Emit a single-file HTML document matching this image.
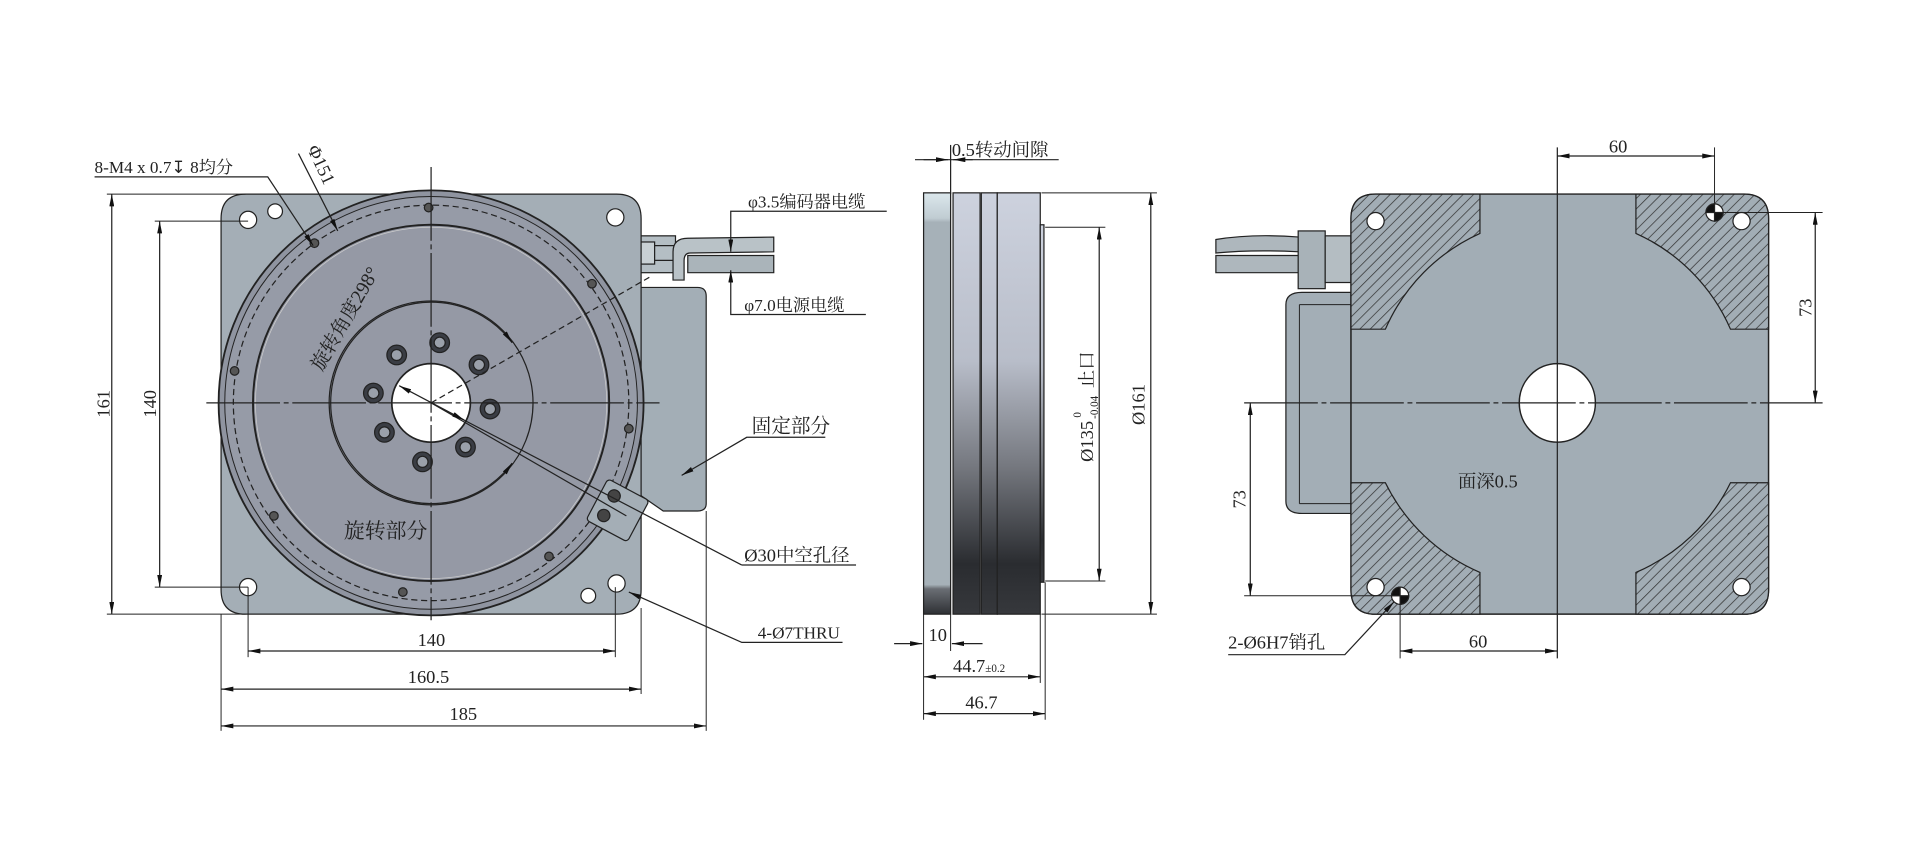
<!DOCTYPE html>
<html><head><meta charset="utf-8"><style>
html,body{margin:0;padding:0;background:#fff;width:1927px;height:850px;overflow:hidden}
svg{display:block}
text{font-family:"Liberation Serif","Noto Serif CJK SC",serif;fill:#222}
</style></head><body>
<svg width="1927" height="850" viewBox="0 0 1569 692" preserveAspectRatio="none" xmlns="http://www.w3.org/2000/svg">
<defs>
<pattern id="h" width="6" height="6" patternUnits="userSpaceOnUse" patternTransform="rotate(45)">
<rect width="6" height="6" fill="#a2adb5"/><line x1="0" y1="0" x2="0" y2="6" stroke="#333" stroke-width="1.2"/></pattern>
<linearGradient id="cyl" x1="0" y1="0" x2="0" y2="1">
<stop offset="0" stop-color="#cdd2de"/><stop offset="0.4" stop-color="#b8bdc9"/><stop offset="0.65" stop-color="#75787f"/><stop offset="0.88" stop-color="#2a2c30"/><stop offset="1" stop-color="#36383c"/></linearGradient>
<linearGradient id="lp" x1="0" y1="0" x2="0" y2="1">
<stop offset="0" stop-color="#dbe7ec"/><stop offset="0.06" stop-color="#c0ccd2"/><stop offset="0.07" stop-color="#a6b1b8"/><stop offset="0.93" stop-color="#a6b1b8"/><stop offset="0.94" stop-color="#6a6e74"/><stop offset="1" stop-color="#2e3034"/></linearGradient>
<marker id="a" viewBox="0 0 10 4" refX="10" refY="2" markerWidth="10" markerHeight="4" orient="auto-start-reverse" markerUnits="userSpaceOnUse"><path d="M0,0 L10,2 L0,4z" fill="#111"/></marker>
</defs>
<g stroke="#222" stroke-width="1">
<!-- LEFT VIEW -->
<path d="M514,234 L568,234 Q575,234 575,241 L575,410 Q575,416 568,416 L540,416 L514,398z" fill="#a3aeb6"/>
<rect x="469" y="189" width="27" height="42" rx="3" fill="#a3aeb6"/>
<rect x="496" y="192" width="54" height="30" fill="#b4bec4"/>
<line x1="500" y1="200" x2="550" y2="200"/><line x1="500" y1="212" x2="550" y2="212"/>
<rect x="519" y="197" width="14" height="18" fill="#c8d0d4"/>
<path d="M548,228 L548,205 Q548,194 560,194 L630,193 L630,205 L562,206 Q557,206 557,212 L557,228z" fill="#b9c2c7"/>
<path d="M560,208 L630,208 L630,222 L560,222z" fill="#aab4ba"/>
<path d="M200,158 L502,158 Q522,158 522,178 L522,480 Q522,500 502,500 L200,500 Q180,500 180,480 L180,178 Q180,158 200,158z" fill="#a4aeb6"/>
<circle cx="351" cy="328" r="173" fill="#8f94a0" stroke-width="1.5"/>
<circle cx="351" cy="328" r="168" fill="#969ba7" stroke-width="0.8"/>
<circle cx="351" cy="328" r="161" fill="none" stroke-dasharray="5,3"/>
<circle cx="351" cy="328" r="145" fill="#9599a5" stroke-width="1.6"/>
<circle cx="351" cy="328" r="143" fill="none" stroke="#ccc" stroke-width="0.6"/>
<circle cx="351" cy="328" r="83" fill="none" stroke-width="1"/>
<g fill="#fff"><circle cx="202" cy="179" r="7"/><circle cx="224" cy="172" r="6"/><circle cx="501" cy="177" r="7"/><circle cx="202" cy="478" r="7"/><circle cx="479" cy="485" r="6"/><circle cx="502" cy="475" r="7"/></g>
<g fill="#555"><circle cx="349" cy="169" r="3.5"/><circle cx="482" cy="231" r="3.5"/><circle cx="512" cy="349" r="3.5"/><circle cx="447" cy="453" r="3.5"/><circle cx="328" cy="482" r="3.5"/><circle cx="223" cy="420" r="3.5"/><circle cx="191" cy="302" r="3.5"/><circle cx="256" cy="198" r="3.5"/></g>
<g fill="#3a3d44"><circle cx="358" cy="279" r="8"/><circle cx="390" cy="297" r="8"/><circle cx="399" cy="333" r="8"/><circle cx="379" cy="364" r="8"/><circle cx="344" cy="376" r="8"/><circle cx="313" cy="352" r="8"/><circle cx="304" cy="320" r="8"/><circle cx="323" cy="289" r="8"/></g>
<g fill="#9aa0aa"><circle cx="358" cy="279" r="4.5"/><circle cx="390" cy="297" r="4.5"/><circle cx="399" cy="333" r="4.5"/><circle cx="379" cy="364" r="4.5"/><circle cx="344" cy="376" r="4.5"/><circle cx="313" cy="352" r="4.5"/><circle cx="304" cy="320" r="4.5"/><circle cx="323" cy="289" r="4.5"/></g>
<circle cx="351" cy="328" r="32" fill="#fff" stroke-width="1.4"/>
<g transform="rotate(28 502 415)"><rect x="484" y="396" width="38" height="38" rx="3" fill="#a4aeb6"/><circle cx="495" cy="406" r="5" fill="#444"/><circle cx="495" cy="424" r="5" fill="#444"/></g>
<line x1="168" y1="328" x2="537" y2="328" stroke-dasharray="60,3,4,3"/>
<line x1="351" y1="136" x2="351" y2="505" stroke-dasharray="60,3,4,3"/>
<line x1="351" y1="328" x2="530" y2="225" stroke-dasharray="5,3"/>
<line x1="351" y1="328" x2="510" y2="420"/>
<line x1="351" y1="328" x2="604" y2="460"/>
<path d="M417,279 A82,82 0 1 0 417,377" fill="none" marker-start="url(#a)" marker-end="url(#a)"/>
<line x1="325" y1="314" x2="378" y2="342" marker-start="url(#a)" marker-end="url(#a)"/>
<line x1="87" y1="158" x2="200" y2="158" stroke-width="0.8"/><line x1="87" y1="500" x2="200" y2="500" stroke-width="0.8"/>
<line x1="91" y1="158" x2="91" y2="500" marker-start="url(#a)" marker-end="url(#a)"/>
<line x1="126" y1="180" x2="202" y2="180" stroke-width="0.8"/><line x1="126" y1="478" x2="202" y2="478" stroke-width="0.8"/>
<line x1="130" y1="180" x2="130" y2="478" marker-start="url(#a)" marker-end="url(#a)"/>
<line x1="202" y1="478" x2="202" y2="535" stroke-width="0.8"/><line x1="501" y1="478" x2="501" y2="535" stroke-width="0.8"/>
<line x1="180" y1="500" x2="180" y2="595" stroke-width="0.8"/><line x1="522" y1="495" x2="522" y2="565" stroke-width="0.8"/><line x1="575" y1="416" x2="575" y2="595" stroke-width="0.8"/>
<line x1="202" y1="530" x2="501" y2="530" marker-start="url(#a)" marker-end="url(#a)"/>
<line x1="180" y1="561" x2="522" y2="561" marker-start="url(#a)" marker-end="url(#a)"/>
<line x1="180" y1="591" x2="575" y2="591" marker-start="url(#a)" marker-end="url(#a)"/>
<polyline points="77,144 218,144 255,200" fill="none" marker-end="url(#a)"/>
<line x1="243" y1="125" x2="275" y2="188" marker-end="url(#a)"/>
<polyline points="722,172 595,172 595,205" fill="none" marker-end="url(#a)"/>
<polyline points="705,256 595,256 595,220" fill="none" marker-end="url(#a)"/>
<polyline points="672,356 608,356 555,387" fill="none" marker-end="url(#a)"/>
<polyline points="697,460 604,460" fill="none"/>
<polyline points="686,523 604,523 512,482" fill="none" marker-end="url(#a)"/>

<!-- MIDDLE VIEW -->
<rect x="752" y="157" width="22" height="343" fill="url(#lp)"/>
<rect x="776" y="157" width="22" height="343" fill="url(#cyl)"/>
<rect x="799" y="157" width="13" height="343" fill="url(#cyl)"/>
<rect x="812" y="157" width="35" height="343" fill="url(#cyl)"/>
<rect x="847" y="183" width="3" height="291" fill="url(#cyl)"/>
<line x1="774" y1="118" x2="774" y2="158"/>
<line x1="745" y1="130" x2="862" y2="130"/>
<line x1="752" y1="130" x2="772" y2="130" marker-end="url(#a)"/><line x1="792" y1="130" x2="776" y2="130" marker-end="url(#a)"/>
<line x1="848" y1="157" x2="942" y2="157" stroke-width="0.8"/><line x1="848" y1="500" x2="942" y2="500" stroke-width="0.8"/>
<line x1="937" y1="157" x2="937" y2="500" marker-start="url(#a)" marker-end="url(#a)"/>
<line x1="851" y1="185" x2="900" y2="185" stroke-width="0.8"/><line x1="851" y1="473" x2="900" y2="473" stroke-width="0.8"/>
<line x1="895" y1="185" x2="895" y2="473" marker-start="url(#a)" marker-end="url(#a)"/>
<line x1="752" y1="500" x2="752" y2="586" stroke-width="0.8"/><line x1="774" y1="500" x2="774" y2="530" stroke-width="0.8"/>
<line x1="847" y1="500" x2="847" y2="556" stroke-width="0.8"/><line x1="851" y1="474" x2="851" y2="586" stroke-width="0.8"/>
<line x1="728" y1="524" x2="751" y2="524" marker-end="url(#a)"/><line x1="800" y1="524" x2="775" y2="524" marker-end="url(#a)"/>
<line x1="752" y1="551" x2="847" y2="551" marker-start="url(#a)" marker-end="url(#a)"/>
<line x1="752" y1="581" x2="851" y2="581" marker-start="url(#a)" marker-end="url(#a)"/>

<!-- RIGHT VIEW -->
<path d="M1060,238 L1100,238 L1100,418 L1060,418 Q1047,418 1047,408 L1047,248 Q1047,238 1060,238z" fill="#a3aeb6"/>
<path d="M1058,248 L1100,248 M1058,410 L1100,410 M1058,248 L1058,410" fill="none" stroke-width="0.8"/>
<path d="M990,195 Q1020,190 1058,193 L1058,205 Q1020,203 990,206z" fill="#aeb7bd"/>
<path d="M990,208 L1058,208 L1058,222 L990,222z" fill="#aeb7bd"/>
<rect x="1057" y="188" width="22" height="47" fill="#a8b2b8"/>
<rect x="1079" y="192" width="21" height="38" fill="#b4bdc2"/>
<path d="M1120,158 L1420,158 Q1440,158 1440,178 L1440,480 Q1440,500 1420,500 L1120,500 Q1100,500 1100,480 L1100,178 Q1100,158 1120,158z" fill="#a2adb5" stroke-width="1.2"/>
<path d="M1120,158 L1205,158 L1205,190 A152,152 0 0 0 1128,268 L1100,268 L1100,178 Q1100,158 1120,158z" fill="url(#h)"/>
<path d="M1420,158 L1332,158 L1332,190 A152,152 0 0 1 1409,268 L1440,268 L1440,178 Q1440,158 1420,158z" fill="url(#h)"/>
<path d="M1120,500 L1205,500 L1205,466 A152,152 0 0 1 1128,393 L1100,393 L1100,480 Q1100,500 1120,500z" fill="url(#h)"/>
<path d="M1420,500 L1332,500 L1332,466 A152,152 0 0 0 1409,393 L1440,393 L1440,480 Q1440,500 1420,500z" fill="url(#h)"/>
<g fill="#fff"><circle cx="1120" cy="180" r="7"/><circle cx="1418" cy="180" r="7"/><circle cx="1120" cy="478" r="7"/><circle cx="1418" cy="478" r="7"/></g>
<circle cx="1396" cy="173" r="7" fill="#fff"/><path d="M1396,173 L1403,173 A7,7 0 0 1 1396,180z M1396,173 L1389,173 A7,7 0 0 1 1396,166z" fill="#111"/>
<circle cx="1140" cy="485" r="7" fill="#fff"/><path d="M1140,485 L1147,485 A7,7 0 0 1 1140,492z M1140,485 L1133,485 A7,7 0 0 1 1140,478z" fill="#111"/>
<ellipse cx="1268" cy="328" rx="31" ry="32" fill="#fff" stroke-width="1.2"/>
<line x1="1013" y1="328" x2="1484" y2="328" stroke-dasharray="60,3,4,3"/>
<line x1="1268" y1="120" x2="1268" y2="536"/>
<line x1="1396" y1="120" x2="1396" y2="173" stroke-width="0.8"/>
<line x1="1268" y1="127" x2="1396" y2="127" marker-start="url(#a)" marker-end="url(#a)"/>
<line x1="1396" y1="173" x2="1484" y2="173" stroke-width="0.8"/>
<line x1="1478" y1="173" x2="1478" y2="328" marker-start="url(#a)" marker-end="url(#a)"/>
<line x1="1013" y1="485" x2="1140" y2="485" stroke-width="0.8"/>
<line x1="1018" y1="328" x2="1018" y2="485" marker-start="url(#a)" marker-end="url(#a)"/>
<line x1="1140" y1="485" x2="1140" y2="536" stroke-width="0.8"/>
<line x1="1140" y1="530" x2="1268" y2="530" marker-start="url(#a)" marker-end="url(#a)"/>
<polyline points="1000,533 1095,533 1135,490" fill="none" marker-end="url(#a)"/>
</g>
<!-- TEXT -->
<g font-size="15">
<text x="77" y="141" font-family="Liberation Mono,Noto Sans CJK SC,monospace" font-size="14">8-M4 x 0.7↧ 8均分</text>
<text transform="translate(250,121) rotate(65)" font-size="15">Φ151</text>
<text x="609" y="169" font-size="14">φ3.5编码器电缆</text>
<text x="606" y="253" font-size="14">φ7.0电源电缆</text>
<text x="612" y="352" font-size="16">固定部分</text>
<text x="606" y="457" font-size="15">Ø30中空孔径</text>
<text x="617" y="520" font-size="14">4-Ø7THRU</text>
<text transform="translate(262,303) rotate(-60)" font-size="16" fill="#333">旋转角度298°</text>
<text x="280" y="438" font-size="17" fill="#333">旋转部分</text>
<text transform="translate(89,340) rotate(-90)">161</text>
<text transform="translate(127,340) rotate(-90)">140</text>
<text x="340" y="526">140</text>
<text x="332" y="556">160.5</text>
<text x="366" y="586">185</text>
<text x="775" y="127" font-size="15">0.5转动间隙</text>
<text x="756" y="522">10</text>
<text x="776" y="547">44.7<tspan font-size="9">±0.2</tspan></text>
<text x="786" y="577">46.7</text>
<text transform="translate(932,346) rotate(-90)">Ø161</text>
<g transform="translate(890,376) rotate(-90)">
<text x="0" y="0">Ø135</text>
<text x="36" y="-10" font-size="9">0</text>
<text x="35" y="4" font-size="9">-0.04</text>
<text x="60" y="0">止口</text>
</g>
<text x="1310" y="124">60</text>
<text x="1196" y="527">60</text>
<text transform="translate(1475,258) rotate(-90)">73</text>
<text transform="translate(1014,414) rotate(-90)">73</text>
<text x="1187" y="397" font-size="15" fill="#333">面深0.5</text>
<text x="1000" y="528" font-size="15">2-Ø6H7销孔</text>
</g>
</svg>
</body></html>
